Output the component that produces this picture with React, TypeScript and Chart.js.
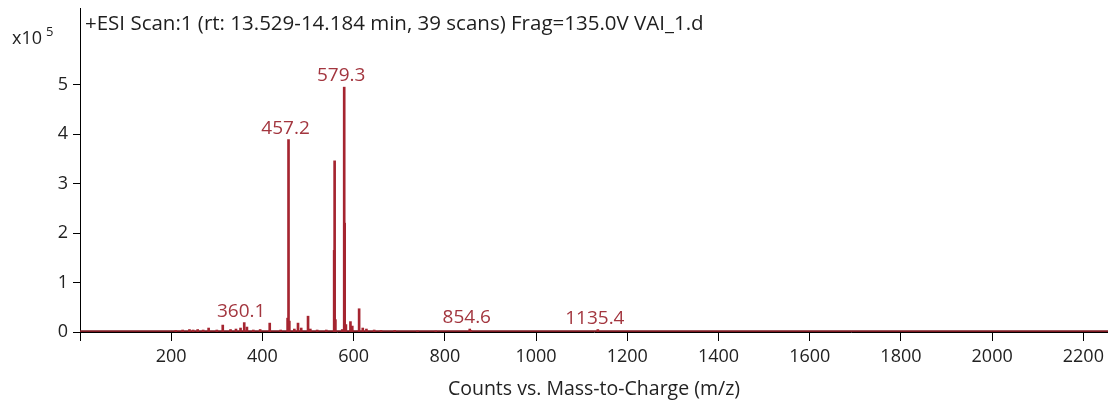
import React, { useEffect, useRef } from "react";
import { Chart, registerables } from "chart.js";

Chart.register(...registerables);

// m/z values of the sticks and their intensities (x10^5 counts)
const mz = [
  210, 225, 240, 248, 258, 270, 282, 300, 313, 330, 342, 352, 360.1, 366, 380, 395, 416,
  440, 455.2, 457.2, 459, 470, 478, 485, 500, 505, 520, 540, 557.3, 558.3, 560, 575,
  579.3, 580.3, 583, 593, 597, 612, 620, 628, 645, 660, 690, 740, 780, 854.6, 857, 1135.4,
];
const intensity = [
  0.03, 0.04, 0.05, 0.04, 0.05, 0.04, 0.08, 0.04, 0.14, 0.05, 0.06, 0.08, 0.19, 0.1, 0.04, 0.05, 0.18,
  0.04, 0.28, 3.89, 0.22, 0.06, 0.18, 0.08, 0.32, 0.06, 0.04, 0.04, 1.65, 3.46, 0.25, 0.05,
  4.95, 2.2, 0.15, 0.21, 0.12, 0.47, 0.08, 0.06, 0.04, 0.03, 0.03, 0.02, 0.02, 0.06, 0.03, 0.05,
];
const labelledPeaks = ["360.1", "457.2", "579.3", "854.6", "1135.4"];
const baselineMz = [0, 2255];
const baselineI = [0.015, 0.015];
const xTicks = [0, 200, 400, 600, 800, 1000, 1200, 1400, 1600, 1800, 2000, 2200];
const yTicks = [0, 1, 2, 3, 4, 5];

const TITLE = "+ESI Scan:1 (rt: 13.529-14.184 min, 39 scans) Frag=135.0V VAI_1.d";
const X_TITLE = "Counts vs. Mass-to-Charge (m/z)";
const FONT = "'Open Sans', 'DejaVu Sans', sans-serif";

export default function App() {
  const ref = useRef<HTMLCanvasElement | null>(null);
  useEffect(() => {
    if (!ref.current) return;
    const annot = {
      id: "annot",
      afterDraw(chart: any) {
        const ctx = chart.ctx;
        const xs = chart.scales.x;
        const ys = chart.scales.y;
        const area = chart.chartArea;
        ctx.save();
        // y axis line extends a little beyond the plot area
        ctx.strokeStyle = "#000";
        ctx.lineWidth = 1;
        ctx.beginPath();
        ctx.moveTo(Math.round(area.left) + 0.5, area.bottom);
        ctx.lineTo(Math.round(area.left) + 0.5, area.bottom + 8);
        ctx.stroke();
        // peak labels
        ctx.font = `19px ${FONT}`;
        ctx.fillStyle = "#a3363f";
        ctx.textAlign = "center";
        ctx.textBaseline = "alphabetic";
        labelledPeaks.forEach((lab) => {
          const i = mz.indexOf(parseFloat(lab));
          if (i < 0) return;
          const px = xs.getPixelForValue(mz[i]);
          const py = ys.getPixelForValue(intensity[i]);
          ctx.fillText(lab, px - 3, py - 6);
        });
        // header
        ctx.fillStyle = "#1e1e1e";
        ctx.textAlign = "left";
        ctx.textBaseline = "alphabetic";
        ctx.font = `20.5px ${FONT}`;
        ctx.fillText(TITLE, area.left + 5, 30);
        ctx.font = `18px ${FONT}`;
        ctx.fillText("x10", 12, 44);
        ctx.font = `13px ${FONT}`;
        ctx.fillText("5", 46, 36);
        ctx.restore();
      },
    };
    const chart = new Chart(ref.current, {
      type: "bar",
      data: {
        datasets: [
          {
            type: "line",
            data: baselineMz.map((m, i) => ({ x: m, y: baselineI[i] })),
            borderColor: "#7d1a22",
            borderWidth: 2,
            pointRadius: 0,
            order: 2,
          } as any,
          {
            type: "bar",
            data: mz.map((m, i) => ({ x: m, y: intensity[i] })),
            backgroundColor: "#a52530",
            borderWidth: 0,
            barThickness: 2,
            grouped: false,
            order: 1,
          } as any,
        ],
      },
      plugins: [annot],
      options: {
        responsive: false,
        animation: false,
        layout: { padding: { top: 8, right: 0, left: 0, bottom: 0 } },
        plugins: { legend: { display: false }, tooltip: { enabled: false }, title: { display: false } },
        scales: {
          x: {
            type: "linear",
            min: 0,
            max: 2254,
            offset: false,
            afterFit: (s: any) => {
              s.height = 69;
              s.paddingLeft = 0;
              s.paddingRight = 0;
            },
            afterBuildTicks: (s: any) => {
              s.ticks = xTicks.map((v) => ({ value: v }));
            },
            ticks: {
              color: "#222",
              font: { family: FONT, size: 18 },
              padding: 5,
              maxRotation: 0,
              autoSkip: false,
              callback: (v: any) => (v === 0 ? "" : String(v)),
            },
            grid: { drawOnChartArea: false, drawTicks: true, tickLength: 9, color: "#000", offset: false },
            border: { color: "#000", width: 1 },
            title: {
              display: true,
              text: X_TITLE,
              color: "#222",
              font: { family: FONT, size: 19.5, lineHeight: 1 },
              padding: { top: 0, bottom: 2 },
            },
          },
          y: {
            min: 0,
            max: 6.55,
            afterFit: (s: any) => {
              s.width = 80;
              s.paddingTop = 0;
              s.paddingBottom = 0;
            },
            afterBuildTicks: (s: any) => {
              s.ticks = yTicks.map((v) => ({ value: v }));
            },
            ticks: { color: "#222", font: { family: FONT, size: 18 }, padding: 5 },
            grid: { drawOnChartArea: false, drawTicks: true, tickLength: 7, color: "#000" },
            border: { color: "#000", width: 1 },
          },
        },
      },
    });
    return () => chart.destroy();
  }, []);
  return (
    <div style={{ position: "absolute", left: 0, top: 0, width: 1108, height: 401, background: "#fff" }}>
      <canvas ref={ref} width={1108} height={401} style={{ display: "block" }} />
    </div>
  );
}
